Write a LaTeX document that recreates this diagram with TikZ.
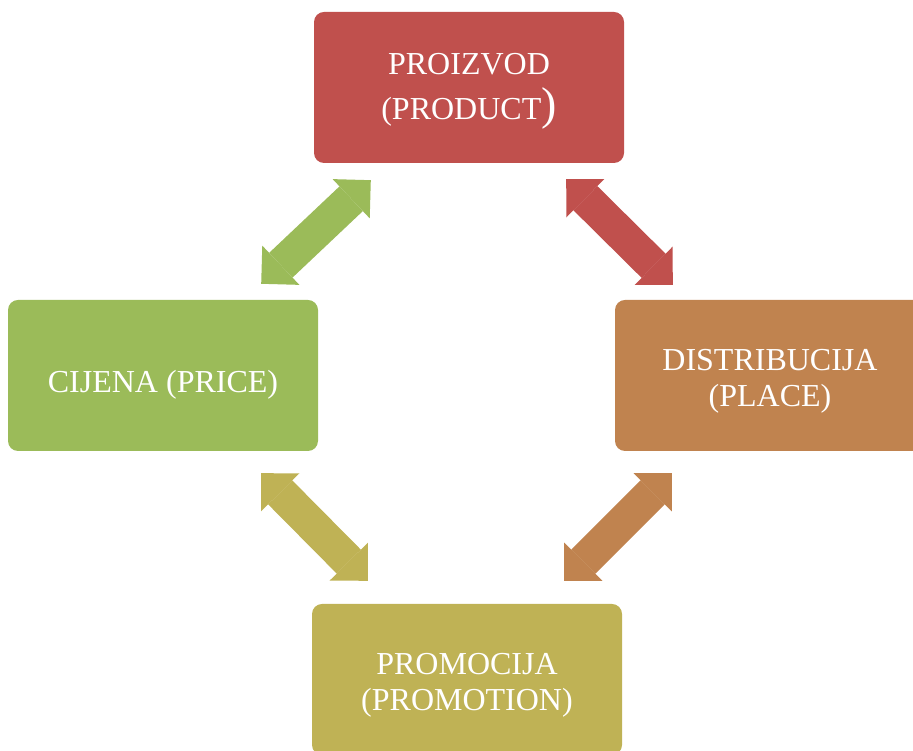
\documentclass[tikz,border=0pt]{standalone}
\usepackage{fontspec}
\setmainfont{Liberation Serif}
\usetikzlibrary{positioning, arrows.meta}
\definecolor{productred}{HTML}{C0504D}
\definecolor{pricegreen}{HTML}{9BBB59}
\definecolor{placeorange}{HTML}{C0834F}
\definecolor{promoolive}{HTML}{BFB255}
\newcommand{\lift}[1]{\rule{0pt}{#1}}
\tikzstyle{box} = [rectangle, rounded corners=10pt, minimum width=310pt, minimum height=151pt, text centered, text=white, align=center, font=\fontsize{32}{35.5}\selectfont]
\tikzstyle{link} = [line width=34pt, <->, >={Triangle[length=27pt, width=54pt, line width=0pt]}]

\begin{document}
\begin{tikzpicture}[x=1pt, y=1pt, node distance=288pt]
    \useasboundingbox (0,0) rectangle (913,751);
    \clip (0,0) rectangle (913,751);
    \node (product) [box, fill=productred] at (469,663.5) {\lift{29pt}PROIZVOD\\[9pt](PRODUCT{\fontsize{46}{46}\selectfont)}};
    \node (price) [box, fill=pricegreen, below of = product, xshift=-306pt] {\lift{40pt}CIJENA (PRICE)};
    \node (place) [box, fill=placeorange, below of = product, xshift=301pt] {\lift{33pt}DISTRIBUCIJA\\(PLACE)};
    \node (promotion) [box, fill=promoolive, below of = product, yshift=-304pt, xshift=-2pt] {\lift{33pt}PROMOCIJA\\(PROMOTION)};
    \draw[link, pricegreen] ([shift={(-57,16)}]price.north east) -- ([shift={(57,-17)}]product.south west);
    \draw[link, productred] ([shift={(-58,-16)}]product.south east) -- ([shift={(58,15)}]place.north west);
    \draw[link, placeorange] ([shift={(57,-22)}]place.south west) -- ([shift={(-58,23)}]promotion.north east);
    \draw[link, promoolive] ([shift={(56,23)}]promotion.north west) -- ([shift={(-57,-22)}]price.south east);
\end{tikzpicture}
\end{document}
